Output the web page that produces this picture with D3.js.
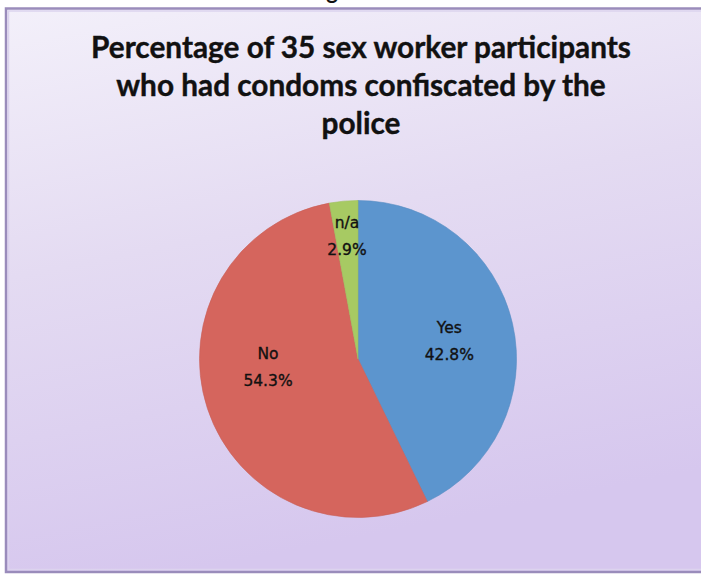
<!DOCTYPE html>
<html><head><meta charset="utf-8">
<script src="https://cdn.jsdelivr.net/npm/d3@7"></script>
<style>html,body{margin:0;padding:0;background:#fff;overflow:hidden}</style>
</head><body>
<script>
// ---- data ----
const categories = ["Yes", "No", "n/a"];
const values = [42.8, 54.3, 2.9];
const valueLabels = ["42.8%", "54.3%", "2.9%"];
const titleLines = ["Percentage of 35 sex worker participants", "who had condoms confiscated by the", "police"];

// ---- style / layout ----
const W = 701, H = 575;
const colors = {"Yes": "#5c95ce", "No": "#d5655d", "n/a": "#a7ca63"};
const cx = 358, cy = 359, R = 158.5;
// label anchor (polar: degrees clockwise from north, radius) of first line baseline
const labelPolar = {"Yes": [74, 95], "No": [270, 90], "n/a": [355.2, 131.5]};

const svg = d3.select("body").append("svg").attr("width", W).attr("height", H);
const defs = svg.append("defs");
const lg = defs.append("linearGradient").attr("id", "bg").attr("x1", 0).attr("y1", 0).attr("x2", 0.25).attr("y2", 1);
lg.append("stop").attr("offset", "0%").attr("stop-color", "#f3f0fa");
lg.append("stop").attr("offset", "45%").attr("stop-color", "#e4dbf2");
lg.append("stop").attr("offset", "100%").attr("stop-color", "#d6c7ee");

// partial heading glyph cut at top (as in the reference)
svg.append("text").attr("x", 332).attr("y", -1).attr("text-anchor", "middle")
  .attr("font-family", "Lato, sans-serif").attr("font-weight", "bold").attr("font-size", 22)
  .attr("fill", "#111").text("g");

// frame
svg.append("rect").attr("x", 6).attr("y", 8.5).attr("width", W + 10).attr("height", 563.5)
  .attr("fill", "url(#bg)").attr("stroke", "#9a8cbb").attr("stroke-width", 2.5);
svg.append("rect").attr("x", 8.5).attr("y", 11).attr("width", W + 10).attr("height", 558.5)
  .attr("fill", "none").attr("stroke", "#dcd3ee").attr("stroke-width", 1.5);

// title
const title = svg.append("g");
titleLines.forEach((t, i) => {
  title.append("text").attr("x", 361).attr("y", 58 + i * 38)
    .attr("text-anchor", "middle").attr("font-family", "Lato, 'Open Sans', sans-serif")
    .attr("font-weight", "bold").attr("font-size", 26.5).attr("fill", "#111")
    .attr("stroke", "#111").attr("stroke-width", 0.4).text(t);
});
const t0 = title.select("text").node();
const wl = t0.getComputedTextLength();
const fs = 26.5 * 540 / wl;
title.selectAll("text").attr("font-size", fs);

// pie
const pie = d3.pie().value(d => d.v).sort(null);
const data = categories.map((c, i) => ({c, v: values[i], lab: valueLabels[i]}));
const arcs = pie(data);
const arc = d3.arc().innerRadius(0).outerRadius(R);
const g = svg.append("g").attr("transform", `translate(${cx},${cy})`);
g.selectAll("path").data(arcs).join("path")
  .attr("d", arc).attr("fill", d => colors[d.data.c])
  .attr("stroke", d => d3.color(colors[d.data.c]).darker(0.15)).attr("stroke-width", 0.6);

// labels
arcs.forEach(d => {
  const [a, r] = labelPolar[d.data.c];
  const rad = a * Math.PI / 180;
  const x = r * Math.sin(rad), y = -r * Math.cos(rad);
  const t = g.append("text").attr("text-anchor", "middle")
    .attr("font-family", "'DejaVu Sans', Verdana, sans-serif").attr("font-size", 15.5)
    .attr("fill", "#111").attr("stroke", "#111").attr("stroke-width", 0.35);
  t.append("tspan").attr("x", x).attr("y", y).text(d.data.c);
  t.append("tspan").attr("x", x).attr("y", y + 27).text(d.data.lab);
});
</script>
</body></html>
